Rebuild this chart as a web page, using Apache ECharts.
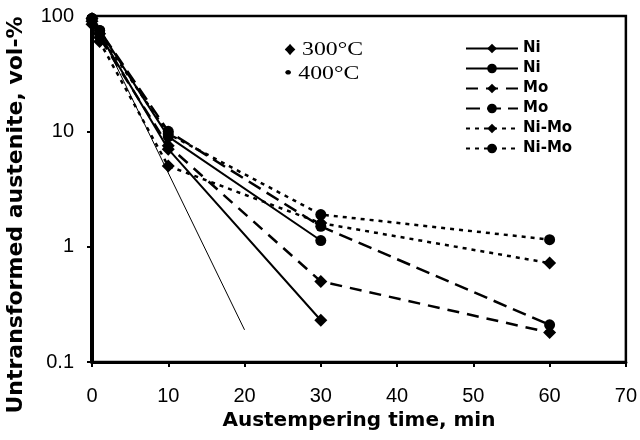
<!DOCTYPE html>
<html><head><meta charset="utf-8">
<script src="https://cdn.jsdelivr.net/npm/echarts@6/dist/echarts.min.js"></script>
<style>html,body{margin:0;padding:0;background:#fff}#c{width:640px;height:440px}</style>
</head><body><div id="c"></div>
<script>
var timesShort = [0, 1, 10, 30];
var timesLong = [0, 1, 10, 30, 60];
var ni300 = [95, 70, 7, 0.23];
var ni400 = [95, 75, 9, 1.13];
var mo300 = [90, 65, 7.5, 0.5, 0.18];
var mo400 = [95, 75, 10, 1.5, 0.21];
var nimo300 = [85, 60, 5, 1.6, 0.72];
var nimo400 = [95, 70, 9.5, 1.9, 1.15];
var fitTimes = [0, 20];
var fitValues = [100, 0.19];
var xTicks = [0, 10, 20, 30, 40, 50, 60, 70];
var yTicks = [0.1, 1, 10, 100];

function pairs(t, v) { return v.map(function (y, i) { return [t[i], y]; }); }

var seriesDefs = [
  { name: 'Ni (300)', t: timesShort, v: ni300, sym: 'diamond', type: 'solid', w: 2 },
  { name: 'Ni (400)', t: timesShort, v: ni400, sym: 'circle', type: 'solid', w: 2 },
  { name: 'Mo (300)', t: timesLong, v: mo300, sym: 'diamond', type: [12, 8], w: 2.5 },
  { name: 'Mo (400)', t: timesLong, v: mo400, sym: 'circle', type: [14, 7], w: 2.5 },
  { name: 'Ni-Mo (300)', t: timesLong, v: nimo300, sym: 'diamond', type: [4, 5], w: 2.5 },
  { name: 'Ni-Mo (400)', t: timesLong, v: nimo400, sym: 'circle', type: [4, 5], w: 2.5 }
];

var series = seriesDefs.map(function (d) {
  return {
    name: d.name, type: 'line', data: pairs(d.t, d.v),
    symbol: d.sym, symbolSize: d.sym === 'diamond' ? 13 : 11,
    itemStyle: { color: '#000' },
    lineStyle: { color: '#000', width: d.w, type: d.type },
    animation: false, z: 3
  };
});
series.push({
  name: 'fit', type: 'line', data: pairs(fitTimes, fitValues), symbol: 'none',
  lineStyle: { color: '#000', width: 1 }, animation: false, z: 2
});

function yFmt(v) { var m = yTicks.filter(function (t) { return Math.abs(t - v) < 1e-9; }); return m.length ? String(m[0]) : ''; }

var chart = echarts.init(document.getElementById('c'));
chart.setOption({
  backgroundColor: '#fff',
  animation: false,
  grid: { left: 92, right: 14, top: 16, bottom: 78, show: true, borderColor: '#000', borderWidth: 2.5, backgroundColor: 'transparent' },
  legend: {
    data: seriesDefs.map(function (d) { return d.name; }),
    orient: 'vertical', left: 460, top: 36, itemWidth: 52, itemHeight: 12, itemGap: 5,
    selectedMode: false,
    formatter: function (n) { return n.replace(/ \(\d+\)$/, ''); },
    textStyle: { fontFamily: 'DejaVu Sans', fontWeight: 'bold', fontSize: 15, color: '#000' }
  },
  xAxis: {
    type: 'value', min: 0, max: 70, interval: 10,
    name: 'Austempering time, min', nameLocation: 'middle', nameGap: 48,
    nameTextStyle: { fontFamily: 'DejaVu Sans', fontWeight: 'bold', fontSize: 20, color: '#000' },
    axisLine: { onZero: false, lineStyle: { color: '#000', width: 3 } },
    axisTick: { show: true, length: 5, lineStyle: { color: '#000', width: 2 } },
    axisLabel: { fontFamily: 'Liberation Sans', fontSize: 20, color: '#000', margin: 24 },
    splitLine: { show: false }
  },
  yAxis: {
    type: 'log', min: 0.1, max: 100, logBase: 10,
    axisLine: { lineStyle: { color: '#000', width: 4 } },
    axisTick: { show: true, length: 5, lineStyle: { color: '#000', width: 2 } },
    axisLabel: { fontFamily: 'Liberation Sans', fontSize: 20, color: '#000', margin: 18, formatter: yFmt },
    splitLine: { show: false }
  },
  graphic: [
    { type: 'text', x: 16, y: 215, rotation: Math.PI / 2,
      style: { text: 'Untransformed austenite, vol-%', font: 'bold 22px "DejaVu Sans"', fill: '#000', align: 'center', verticalAlign: 'middle' } },
    { type: 'text', x: 284, y: 50, scaleX: 1.25,
      style: { text: '\u2666 300\u00B0C', font: '19px "Liberation Serif"', fill: '#000', align: 'left', verticalAlign: 'middle' } },
    { type: 'text', x: 284, y: 74, scaleX: 1.25,
      style: { text: '\u2022 400\u00B0C', font: '19px "Liberation Serif"', fill: '#000', align: 'left', verticalAlign: 'middle' } }
  ],
  series: series
});
</script></body></html>
